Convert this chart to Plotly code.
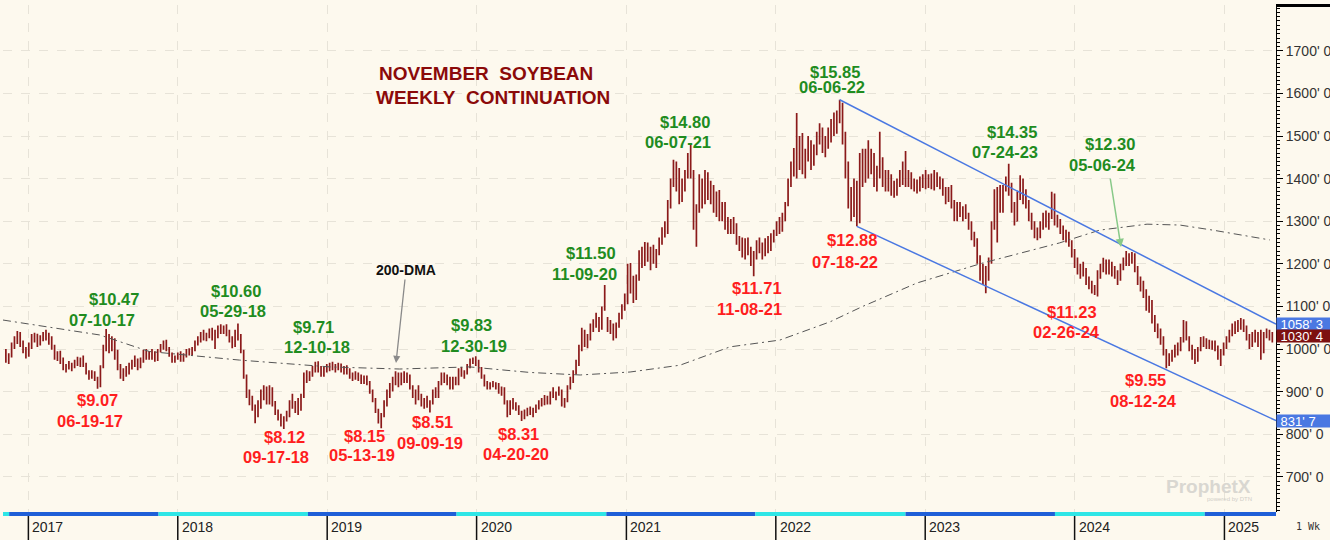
import plotly.graph_objects as go
import pandas as pd

# ---------------- DATA ----------------
first_week = "2016-11-07"   # weekly bars (Mondays)

opens = [
    985, 975, 985, 1008, 1025, 1030, 1012, 995,
    985, 1010, 1028, 1030, 1012, 1025, 1035, 1025, 1015, 1002, 980, 990, 972, 955, 960, 958, 962,
    970, 965, 976, 960, 945, 935, 945, 930, 912, 958, 1000, 1020, 1000, 1022, 980, 958, 940, 948,
    945, 962, 970, 965, 958, 975, 990, 982, 988, 980, 990, 1000, 1005, 1015, 998, 988, 975,
    980, 988, 975, 985, 995, 990, 1000, 1015, 1020, 1030, 1025, 1030, 1040, 1035, 1030, 1048, 1045, 1050,
    1035, 1025, 1010, 1040, 1025, 995, 935, 895, 872, 860, 845, 870, 895, 900, 880, 905, 870,
    850, 840, 830, 838, 845, 875, 865, 870, 858, 890, 940, 935, 945, 955, 960, 950, 940, 955,
    958, 960, 955, 960, 955, 950, 955, 945, 935, 940, 935, 930, 925, 930, 920, 900, 880,
    855, 830, 845, 875, 895, 910, 925, 935, 920, 940, 925, 935, 910, 890, 900, 885, 870,
    880, 870, 875, 898, 892, 920, 935, 930, 925, 910, 930, 920, 948, 942, 945, 960, 972, 975,
    965, 950, 935, 918, 910, 918, 915, 912, 900, 905, 875, 850, 875, 862, 860, 850, 845,
    850, 858, 850, 855, 862, 875, 872, 885, 875, 895, 890, 895, 900, 870, 880, 910, 925, 945,
    968, 1000, 1040, 1010, 1028, 1055, 1060, 1065, 1050, 1095, 1060, 1055, 1048, 1030, 1055, 1080, 1098,
    1125, 1180, 1150, 1130, 1165, 1220, 1200, 1235, 1215, 1225, 1210, 1228, 1250, 1280, 1275, 1340, 1390,
    1410, 1400, 1360, 1385, 1410, 1445, 1410, 1300, 1330, 1395, 1350, 1400, 1365,
    1380, 1330, 1360, 1310, 1335, 1290, 1280, 1295, 1280, 1250, 1240, 1225, 1245,
    1228, 1205, 1220, 1245, 1235, 1225, 1250, 1240, 1262,
    1270, 1290, 1280, 1310, 1340, 1390, 1420, 1440, 1460, 1450, 1430, 1460, 1480, 1440, 1470, 1495, 1500,
    1475, 1490, 1510, 1530, 1520, 1550, 1570, 1500, 1420, 1360, 1330, 1380, 1300,
    1440, 1400, 1450, 1420, 1450, 1400, 1420, 1440, 1390, 1380, 1400, 1380, 1370, 1390,
    1410, 1400, 1390, 1405, 1385, 1380, 1390, 1385,
    1400, 1385, 1400, 1380, 1405, 1390, 1395, 1370, 1355, 1370, 1340, 1310, 1330, 1320, 1325, 1310, 1290,
    1265, 1250, 1210, 1170, 1190, 1170, 1205, 1290, 1350, 1370, 1340, 1380, 1395, 1380,
    1330, 1300, 1360, 1390, 1360, 1340, 1310, 1290, 1275, 1265, 1290, 1305, 1295,
    1310, 1350, 1300, 1295, 1280, 1262, 1270, 1250,
    1222, 1200, 1185, 1190, 1180, 1160, 1150, 1140, 1145, 1175, 1190, 1205, 1180, 1200, 1180, 1175, 1165, 1195,
    1205, 1215, 1210, 1220, 1190, 1160, 1145, 1130, 1100, 1110, 1070, 1050, 1040,
    1020, 995, 965, 980, 990, 1000, 1005, 1020, 1060, 1025, 1000, 985, 980,
    1000, 1025, 1010, 1018, 1005, 1012, 1000, 985, 995,
    1010, 1025, 1040, 1050, 1045, 1060, 1062, 1048, 1025, 1010, 1030, 1035, 1010, 1000, 1035, 1040, 1030,
]
highs = [
    1000, 990, 1015, 1030, 1042, 1040, 1020, 1005,
    1015, 1035, 1038, 1036, 1032, 1040, 1045, 1038, 1030, 1010, 995, 996, 980, 965, 972, 968, 975,
    982, 980, 985, 968, 950, 950, 948, 935, 962, 1010, 1047, 1035, 1030, 1025, 998, 965, 955, 960,
    968, 975, 985, 978, 980, 998, 1000, 995, 1000, 995, 1000, 1012, 1020, 1022, 1005, 992, 985,
    992, 995, 990, 1000, 1002, 1005, 1020, 1030, 1040, 1045, 1038, 1048, 1050, 1045, 1055, 1058, 1055, 1058,
    1045, 1030, 1045, 1060, 1035, 998, 940, 905, 890, 870, 880, 905, 915, 912, 915, 910, 878,
    858, 848, 842, 855, 880, 895, 878, 885, 895, 945, 950, 948, 960, 970, 971, 960, 958, 965,
    968, 970, 965, 968, 966, 960, 962, 955, 945, 948, 945, 940, 938, 938, 925, 905, 885,
    860, 850, 880, 905, 920, 935, 948, 945, 945, 948, 945, 940, 915, 905, 915, 895, 885,
    890, 880, 905, 910, 925, 945, 945, 940, 935, 935, 935, 955, 958, 950, 965, 978, 980, 983,
    975, 958, 940, 925, 922, 925, 922, 920, 912, 910, 880, 880, 885, 875, 868, 855, 858,
    862, 865, 862, 870, 880, 885, 892, 890, 900, 910, 900, 912, 905, 885, 915, 935, 950, 975,
    1010, 1050, 1045, 1035, 1060, 1070, 1085, 1075, 1100, 1150, 1075, 1068, 1060, 1062, 1085, 1105, 1130,
    1200, 1202, 1172, 1175, 1232, 1240, 1251, 1250, 1240, 1245, 1235, 1262, 1286, 1300, 1350, 1400, 1444,
    1440, 1425, 1400, 1420, 1460, 1480, 1420, 1340, 1410, 1400, 1420, 1415, 1395,
    1385, 1370, 1373, 1345, 1345, 1310, 1305, 1310, 1295, 1265, 1262, 1260, 1262,
    1240, 1230, 1255, 1262, 1250, 1260, 1265, 1272, 1280,
    1300, 1310, 1320, 1345, 1400, 1440, 1472, 1554, 1500, 1507, 1470, 1500, 1490, 1480, 1510, 1530, 1520,
    1500, 1520, 1540, 1555, 1560, 1585, 1578, 1510, 1440, 1380, 1400, 1395, 1460,
    1470, 1470, 1490, 1470, 1460, 1430, 1510, 1450, 1420, 1420, 1410, 1395, 1400, 1420,
    1440, 1465, 1420, 1415, 1400, 1398, 1405, 1410,
    1420, 1410, 1412, 1420, 1415, 1405, 1400, 1380, 1380, 1385, 1350, 1345, 1345, 1335, 1340, 1320, 1300,
    1275, 1260, 1220, 1200, 1195, 1215, 1300, 1375, 1380, 1385, 1385, 1405, 1435, 1390,
    1345, 1370, 1408, 1400, 1375, 1350, 1320, 1300, 1285, 1300, 1320, 1325, 1320,
    1369, 1365, 1315, 1305, 1290, 1280, 1275, 1255,
    1235, 1215, 1200, 1205, 1190, 1170, 1160, 1150, 1185, 1200, 1214, 1210, 1210, 1205, 1195, 1185, 1200, 1215,
    1230, 1225, 1228, 1225, 1195, 1170, 1160, 1140, 1125, 1115, 1080, 1060, 1048,
    1030, 1000, 990, 998, 1010, 1015, 1028, 1068, 1065, 1030, 1010, 1000, 1005,
    1028, 1030, 1025, 1022, 1020, 1020, 1008, 1000, 1015,
    1030, 1045, 1060, 1065, 1068, 1073, 1070, 1055, 1035, 1040, 1045, 1040, 1045, 1040, 1048, 1045, 1040,
]
lows = [
    968, 965, 980, 1000, 1012, 1005, 990, 978,
    982, 1000, 1015, 1005, 1008, 1018, 1020, 1010, 998, 975, 972, 965, 950, 945, 952, 948, 955,
    960, 958, 958, 940, 928, 930, 925, 907, 910, 955, 995, 990, 995, 975, 950, 930, 925, 935,
    940, 952, 958, 950, 955, 968, 975, 975, 975, 970, 972, 992, 998, 995, 982, 968, 968,
    975, 970, 970, 980, 985, 985, 995, 1008, 1015, 1020, 1018, 1025, 1020, 1000, 1025, 1035, 1035, 1030,
    1015, 1002, 1005, 1020, 990, 930, 885, 868, 855, 826, 840, 860, 880, 870, 870, 865, 845,
    832, 818, 812, 830, 840, 860, 850, 845, 855, 885, 920, 925, 935, 945, 945, 935, 935, 945,
    948, 950, 945, 950, 945, 940, 940, 930, 925, 928, 925, 918, 918, 915, 895, 875, 850,
    825, 814, 840, 865, 885, 900, 915, 910, 915, 920, 920, 905, 885, 870, 880, 865, 860,
    862, 851, 870, 885, 885, 915, 920, 915, 905, 905, 915, 915, 935, 930, 940, 955, 965, 960,
    945, 930, 912, 905, 905, 910, 905, 895, 890, 870, 840, 845, 858, 855, 845, 831, 835,
    842, 845, 840, 850, 858, 865, 868, 870, 870, 885, 880, 890, 865, 862, 875, 905, 920, 940,
    960, 995, 1005, 1002, 1020, 1040, 1050, 1040, 1045, 1090, 1040, 1035, 1020, 1025, 1050, 1070, 1090,
    1105, 1130, 1108, 1115, 1160, 1190, 1195, 1205, 1185, 1200, 1190, 1220, 1245, 1262, 1270, 1330, 1380,
    1370, 1340, 1345, 1370, 1400, 1400, 1280, 1240, 1320, 1330, 1340, 1350, 1340,
    1320, 1310, 1300, 1300, 1280, 1270, 1270, 1270, 1245, 1230, 1215, 1210, 1220,
    1195, 1171, 1210, 1225, 1210, 1218, 1225, 1230, 1250,
    1265, 1270, 1275, 1300, 1335, 1380, 1405, 1400, 1420, 1410, 1400, 1440, 1420, 1430, 1455, 1480, 1460,
    1450, 1470, 1485, 1500, 1505, 1530, 1480, 1400, 1330, 1300, 1310, 1288, 1295,
    1380, 1390, 1400, 1410, 1380, 1370, 1400, 1380, 1370, 1370, 1360, 1355, 1360, 1380,
    1385, 1380, 1380, 1375, 1370, 1365, 1370, 1378,
    1375, 1378, 1375, 1372, 1380, 1375, 1360, 1340, 1345, 1330, 1300, 1300, 1310, 1300, 1305, 1280, 1255,
    1240, 1200, 1160, 1150, 1131, 1160, 1200, 1280, 1250, 1320, 1320, 1370, 1360, 1320,
    1290, 1300, 1350, 1340, 1330, 1300, 1280, 1260, 1255, 1260, 1280, 1285, 1280,
    1305, 1290, 1285, 1270, 1255, 1250, 1240, 1215,
    1190, 1175, 1165, 1170, 1150, 1140, 1130, 1127, 1123, 1165, 1180, 1175, 1175, 1170, 1165, 1150, 1160, 1185,
    1195, 1195, 1200, 1180, 1150, 1135, 1120, 1090, 1085, 1060, 1040, 1025, 1010,
    985, 955, 960, 970, 980, 985, 995, 1015, 1020, 995, 975, 965, 970,
    995, 1005, 1000, 1000, 998, 995, 975, 960, 985,
    1000, 1015, 1030, 1035, 1040, 1045, 1040, 1020, 1000, 1005, 1015, 1005, 975, 990, 1025, 1020, 1015,
]
closes = [
    975, 985, 1008, 1025, 1030, 1012, 995, 985,
    1010, 1028, 1030, 1012, 1025, 1035, 1025, 1015, 1002, 980, 990, 972, 955, 960, 958, 962, 970,
    965, 976, 960, 945, 935, 945, 930, 912, 958, 1000, 1020, 1000, 1022, 980, 958, 940, 948, 945,
    962, 970, 965, 958, 975, 990, 982, 988, 980, 990, 985, 1005, 1015, 998, 988, 975, 980,
    988, 975, 985, 995, 990, 1000, 1015, 1020, 1030, 1025, 1030, 1040, 1035, 1030, 1048, 1045, 1050, 1035,
    1025, 1010, 1040, 1025, 995, 935, 895, 872, 860, 845, 870, 895, 900, 880, 905, 870, 850,
    840, 830, 838, 845, 875, 865, 870, 858, 890, 940, 935, 945, 955, 960, 950, 940, 955, 958,
    960, 955, 960, 955, 950, 955, 945, 935, 940, 935, 930, 925, 930, 920, 900, 880, 855,
    830, 845, 875, 895, 910, 925, 935, 920, 940, 925, 935, 910, 890, 900, 885, 870, 880,
    870, 875, 898, 892, 920, 935, 930, 925, 910, 930, 920, 948, 942, 945, 960, 972, 975, 965,
    950, 935, 918, 910, 918, 915, 912, 900, 905, 875, 850, 875, 862, 860, 850, 845, 850,
    858, 850, 855, 862, 875, 872, 885, 875, 895, 890, 895, 900, 870, 880, 910, 925, 945, 968,
    1000, 1040, 1010, 1028, 1055, 1060, 1065, 1050, 1095, 1140, 1055, 1048, 1030, 1055, 1080, 1098, 1125,
    1180, 1150, 1130, 1165, 1220, 1200, 1235, 1215, 1225, 1210, 1228, 1250, 1280, 1275, 1340, 1390, 1410,
    1400, 1360, 1385, 1410, 1445, 1410, 1300, 1330, 1395, 1350, 1400, 1365, 1380,
    1330, 1360, 1310, 1335, 1290, 1280, 1295, 1280, 1250, 1240, 1225, 1245, 1228,
    1205, 1220, 1245, 1235, 1225, 1250, 1240, 1262, 1270,
    1290, 1280, 1310, 1340, 1390, 1420, 1440, 1460, 1450, 1430, 1460, 1480, 1440, 1470, 1495, 1500, 1475,
    1490, 1510, 1530, 1520, 1550, 1570, 1500, 1420, 1360, 1330, 1380, 1300, 1440,
    1400, 1450, 1420, 1450, 1400, 1420, 1440, 1390, 1380, 1400, 1380, 1370, 1390, 1410,
    1400, 1390, 1405, 1385, 1380, 1390, 1385, 1400,
    1385, 1400, 1380, 1405, 1390, 1395, 1370, 1355, 1370, 1340, 1310, 1330, 1320, 1325, 1310, 1290, 1265,
    1250, 1210, 1170, 1190, 1170, 1205, 1290, 1350, 1370, 1340, 1380, 1395, 1380, 1330,
    1300, 1360, 1390, 1360, 1340, 1310, 1290, 1275, 1265, 1290, 1305, 1295, 1310,
    1350, 1300, 1295, 1280, 1262, 1270, 1250, 1222,
    1200, 1185, 1190, 1180, 1160, 1150, 1140, 1145, 1175, 1190, 1205, 1180, 1200, 1180, 1175, 1165, 1195, 1205,
    1215, 1210, 1220, 1190, 1160, 1145, 1130, 1100, 1110, 1070, 1050, 1040, 1020,
    995, 965, 980, 990, 1000, 1005, 1020, 1060, 1025, 1000, 985, 980, 1000,
    1020, 1010, 1018, 1005, 1012, 1000, 985, 995, 1010,
    1025, 1040, 1050, 1045, 1060, 1062, 1048, 1025, 1010, 1030, 1035, 1010, 1000, 1035, 1040, 1030, 1030.5,
]

# 200-day moving average
dma_dates = ["2016-10-31", "2017-06-24", "2017-10-24", "2018-06-01", "2019-01-07", "2019-06-27",
             "2019-12-15", "2020-05-10", "2020-09-10", "2021-01-10", "2021-05-12", "2021-09-11",
             "2022-01-11", "2022-05-14", "2022-07-30", "2022-10-06", "2022-12-12", "2023-05-22",
             "2023-11-25", "2024-03-02", "2024-06-26", "2024-09-14", "2024-12-04", "2025-04-22"]
dma_values = [1068, 1033, 994, 974, 958, 953, 958, 945, 939, 946, 962, 1005,
              1021, 1064, 1099, 1127, 1155, 1202, 1249, 1279, 1293, 1291, 1279, 1256]

# down-trend channel
chan_upper_dates = ["2022-06-06", "2025-05-07"]
chan_upper_vals = [1585, 1058.375]
chan_lower_dates = ["2022-07-18", "2025-05-07"]
chan_lower_vals = [1288, 831.875]

# labelled highs / lows
peak_prices = ["$10.47", "$10.60", "$9.71", "$9.83", "$11.50", "$14.80", "$15.85", "$14.35", "$12.30"]
peak_dates = ["07-10-17", "05-29-18", "12-10-18", "12-30-19", "11-09-20", "06-07-21", "06-06-22", "07-24-23", "05-06-24"]
trough_prices = ["$9.07", "$8.12", "$8.15", "$8.51", "$8.31", "$11.71", "$12.88", "$11.23", "$9.55"]
trough_dates = ["06-19-17", "09-17-18", "05-13-19", "09-09-19", "04-20-20", "11-08-21", "07-18-22", "02-26-24", "08-12-24"]

years = [2017, 2018, 2019, 2020, 2021, 2022, 2023, 2024, 2025]
roll_dates = ["2016-11-15", "2017-11-15", "2018-11-15", "2019-11-13", "2020-11-13",
              "2021-11-12", "2022-11-14", "2023-11-14", "2024-11-14"]
price_ticks = [700, 800, 900, 1000, 1100, 1200, 1300, 1400, 1500, 1600, 1700]

# ---------------- STYLE / LAYOUT ----------------
W, H = 1330, 540
ML, MR, MT, MB = 3, 54, 5, 28
PW, PH = W - ML - MR, H - MT - MB
X_RANGE = ["2016-10-31", "2025-05-07"]
Y_RANGE = [617.4, 1807.5]
BG = "#fdf9ee"
BAR = "#8b1a1a"
GREEN = "#1f8c1f"
RED = "#ff1e1e"
BLUE = "#4a78e2"
FONT = "Arial, Liberation Sans, sans-serif"


def pp(x, y):
    """pixel position in the picture -> paper coordinates"""
    return (x - ML) / PW, (H - MB - y) / PH


def eighths(v):
    return f"{int(v)}' {int(round((v - int(v)) * 8))}"


n = min(len(opens), len(highs), len(lows), len(closes))
weeks = pd.date_range(first_week, periods=n, freq="W-MON")

fig = go.Figure()

fig.add_trace(go.Scatter(x=dma_dates, y=dma_values, mode="lines",
                         line=dict(color="#555555", width=1, dash="8px,4px,2px,4px"),
                         hoverinfo="skip"))

fig.add_trace(go.Ohlc(x=weeks, open=opens[:n], high=highs[:n], low=lows[:n], close=closes[:n],
                      increasing=dict(line=dict(color=BAR, width=1.7)),
                      decreasing=dict(line=dict(color=BAR, width=1.7)),
                      tickwidth=0.3, hoverinfo="skip"))

for xs, ys in ((chan_upper_dates, chan_upper_vals), (chan_lower_dates, chan_lower_vals)):
    fig.add_trace(go.Scatter(x=xs, y=ys, mode="lines", line=dict(color=BLUE, width=1.5),
                             hoverinfo="skip"))

ann = []


def txt(text, x, y, color, size, **kw):
    px_, py_ = pp(x, y)
    d = dict(text=text, x=px_, y=py_, xref="paper", yref="paper", showarrow=False,
             xanchor="center", yanchor="middle",
             font=dict(family=FONT, size=size, color=color))
    d.update(kw)
    ann.append(d)


# title
txt("<b>NOVEMBER\u00a0\u00a0SOYBEAN</b>", 486, 73, "#8b0a0a", 19)
txt("<b>WEEKLY\u00a0\u00a0CONTINUATION</b>", 493, 97, "#8b0a0a", 19)

peak_price_px = [(114, 299), (236, 291), (313, 327), (471, 325), (591, 253), (685, 122), (835, 72), (1012, 132), (1110, 144)]
peak_date_px = [(102, 320), (233, 311), (317, 347), (474, 346), (584, 274), (678, 142), (832, 87), (1005, 152), (1102, 165)]
trough_price_px = [(97, 400), (284, 437), (364, 436), (432, 422), (518, 434), (757, 288), (852, 240), (1072, 312), (1145, 380)]
trough_date_px = [(90, 421), (276, 457), (362, 455), (430, 443), (516, 454), (750, 309), (845, 262), (1066, 332), (1143, 401)]

for t, (x, y) in zip(peak_prices, peak_price_px):
    txt(f"<b>{t}</b>", x, y, GREEN, 16.5)
for t, (x, y) in zip(peak_dates, peak_date_px):
    txt(f"<b>{t}</b>", x, y, GREEN, 16.5)
for t, (x, y) in zip(trough_prices, trough_price_px):
    txt(f"<b>{t}</b>", x, y, RED, 16.5)
for t, (x, y) in zip(trough_dates, trough_date_px):
    txt(f"<b>{t}</b>", x, y, RED, 16.5)

# 200-DMA label with arrow
hx, hy = pp(396, 363)
ann.append(dict(text="<b>200-DMA</b>", x=hx, y=hy, xref="paper", yref="paper",
                ax=10, ay=-93, showarrow=True, arrowhead=2, arrowsize=1.1, arrowwidth=1.3,
                arrowcolor="#8a8a8a", font=dict(family=FONT, size=14, color="#111111")))
# green arrow to the 05-06-24 high
gx, gy = pp(1121, 247)
ann.append(dict(text="", x=gx, y=gy, xref="paper", yref="paper", ax=-11, ay=-70,
                showarrow=True, arrowhead=2, arrowsize=1.1, arrowwidth=1.5, arrowcolor="#88c988"))

# right-hand value boxes
for v, col in ((chan_upper_vals[-1], BLUE), (closes[n - 1], "#7d1010"), (chan_lower_vals[-1], BLUE)):
    ann.append(dict(text="\u00a0" + eighths(v), x=1.0, y=v, xref="paper", yref="y",
                    xanchor="left", yanchor="middle", showarrow=False, align="left",
                    width=53, height=12, bgcolor=col, borderpad=0,
                    font=dict(family=FONT, size=13, color="white")))

# year labels
for yr in years:
    ann.append(dict(text=str(yr), x=f"{yr}-01-01", y=pp(0, 527)[1], xref="x", yref="paper",
                    xanchor="left", yanchor="middle", xshift=2, showarrow=False,
                    font=dict(family=FONT, size=14, color="#222222")))

txt("1 Wk", 1308, 526, "#333333", 10, font=dict(family="DejaVu Sans Mono", size=10, color="#333333"))
txt("<b>ProphetX</b>", 1208, 486, "#d9d7d1", 19)
txt("powered by DTN", 1229, 499, "#d0cec8", 6)

fig.update_layout(annotations=ann)

# shapes: bottom band, year ticks, top bar
shapes = []
band_bounds = [X_RANGE[0]] + roll_dates + [X_RANGE[1]]
band_cols = ["#2ee6e6", "#1f5fd8"]
for i in range(len(band_bounds) - 1):
    shapes.append(dict(type="rect", xref="x", yref="paper", x0=band_bounds[i], x1=band_bounds[i + 1],
                       y0=pp(0, 516)[1], y1=pp(0, 512)[1], fillcolor=band_cols[i % 2],
                       line=dict(width=0), layer="above"))
for yr in years:
    shapes.append(dict(type="line", xref="x", yref="paper", x0=f"{yr}-01-01", x1=f"{yr}-01-01",
                       y0=pp(0, 516)[1], y1=pp(0, 540)[1], line=dict(color="#111111", width=1.5)))
shapes.append(dict(type="line", xref="paper", yref="paper", x0=1.0, x1=pp(1330, 0)[0],
                   y0=pp(0, 5.5)[1], y1=pp(0, 5.5)[1], line=dict(color="#000000", width=3)))
fig.update_layout(shapes=shapes)

fig.update_layout(
    width=W, height=H, margin=dict(l=ML, r=MR, t=MT, b=MB, autoexpand=False),
    paper_bgcolor=BG, plot_bgcolor=BG, showlegend=False,
    font=dict(family=FONT),
    xaxis=dict(type="date", range=X_RANGE, rangeslider=dict(visible=False),
               showgrid=True, gridcolor="#e7e3d8", griddash="dash", gridwidth=1,
               tick0="2017-01-01", dtick="M12", showticklabels=False, ticks="",
               zeroline=False, showline=False, fixedrange=True, automargin=False),
    yaxis=dict(side="right", range=Y_RANGE, tickmode="array", tickvals=price_ticks,
               ticktext=[f"{v}' 0" for v in price_ticks],
               showgrid=True, gridcolor="#e7e3d8", griddash="dash", gridwidth=1,
               showline=True, linecolor="#000000", linewidth=1,
               ticks="outside", ticklen=6, tickcolor="#000000",
               minor=dict(tick0=0, dtick=10, ticks="outside", ticklen=3, tickcolor="#000000", showgrid=False),
               tickfont=dict(family=FONT, size=14, color="#333333"),
               zeroline=False, fixedrange=True, automargin=False),
)

fig.write_html("out.html", include_plotlyjs=True, config={"displayModeBar": False},
               post_script="document.body.style.margin='0';document.body.style.background='#fdf9ee';")
